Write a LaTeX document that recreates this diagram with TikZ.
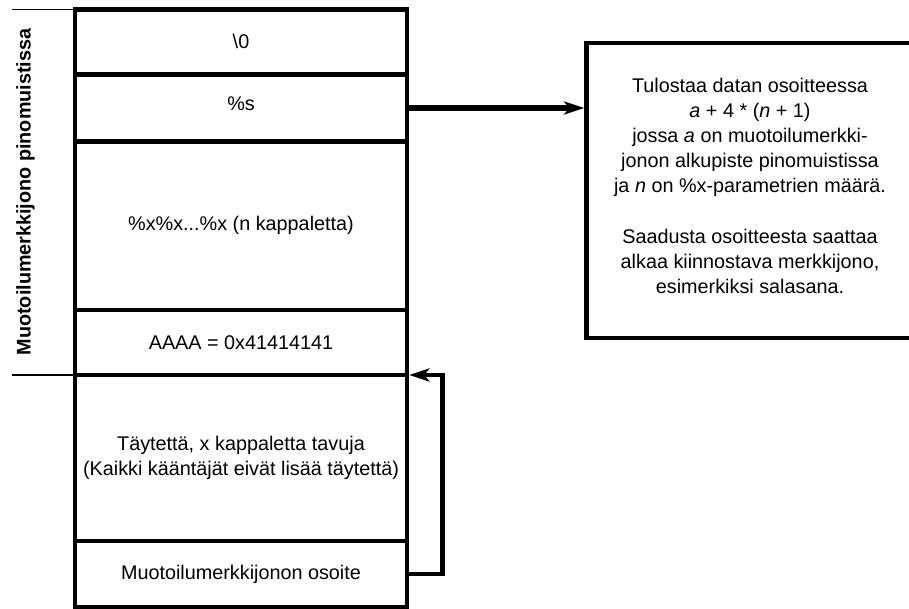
\documentclass[tikz,border=0pt]{standalone}
\usepackage{fontspec}
\setmainfont{Liberation Sans}
\usetikzlibrary{arrows.meta}
\begin{document}
\begin{tikzpicture}[x=1pt,y=-1pt,
  txt/.style={font=\fontsize{19.8}{25}\selectfont},
  cell/.style={txt, draw, line width=4.6pt, minimum width=332pt, inner sep=0pt,
    outer xsep=2.3pt, outer ysep=0pt, align=center},
  notebox/.style={draw, line width=4.6pt, minimum width=326.5pt, minimum height=295pt,
    inner sep=0pt, outer sep=2.3pt},
  arr/.style={-{Stealth[length=20pt,width=13pt,inset=5pt]}},
  tick/.style={line width=1.2pt}]
\useasboundingbox (0,0) rectangle (909,608);
\clip (0,0) rectangle (909,608);

% stack frame cells, top to bottom
\node[cell, minimum height=64.8pt] (c0) at (241,41.9) {\textbackslash0};
\node[cell, minimum height=67.4pt, text depth=9pt] (c1) at (241,108) {\%s};
\node[cell, minimum height=168.3pt] (c2) at (241,225.85) {\%x\%x...\%x (n kappaletta)};
\node[cell, minimum height=65pt] (c3) at (241,342.5) {AAAA = 0x41414141};
\node[cell, minimum height=166pt] (c4) at (241,458) {Täytettä, x kappaletta tavuja\\(Kaikki kääntäjät eivät lisää täytettä)};
\node[cell, minimum height=66pt] (c5) at (241,574) {Muotoilumerkkijonon osoite};

% side label with its bracket ticks
\node[rotate=90, anchor=base, inner sep=0pt, font=\fontsize{19.8}{25}\selectfont\bfseries] (side) at (30.7,192) {Muotoilumerkkijono pinomuistissa};
\coordinate (ttop) at (12,9.5);
\coordinate (tbot) at (12,375);
\draw[tick] (ttop) -- (ttop -| c0.west);
\draw[tick] (tbot) -- (tbot -| c4.west);

% explanation box
\node[notebox] (info) at (749.75,190.5) {};
\node[txt, align=center, inner sep=0pt] (infotext) at (750,186) {Tulostaa datan osoitteessa\\
\textit{a} + 4 * (\textit{n} + 1)\\
jossa \textit{a} on muotoilumerkki-\\
jonon alkupiste pinomuistissa\\
ja \textit{n} on \%x-parametrien määrä.\\[26pt]
Saadusta osoitteesta saattaa\\
alkaa kiinnostava merkkijono,\\
esimerkiksi salasana.};

% connectors
\draw[arr, line width=6pt] (c1.east) -- (c1.east -| info.west);
\draw[arr, line width=4.6pt] (c5.east) -- ++(33,0) |- (c4.north east);
\end{tikzpicture}
\end{document}
